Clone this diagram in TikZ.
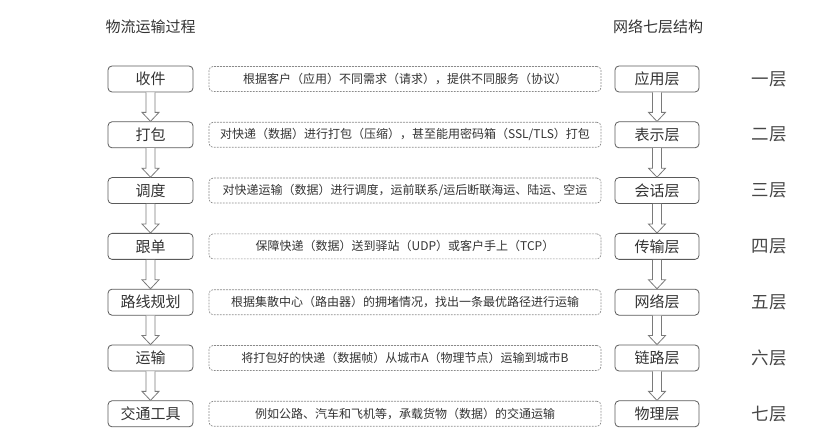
\documentclass[tikz,border=0pt]{standalone}
\usepackage{fontspec}
\setmainfont{Noto Sans CJK SC}
\definecolor{boxline}{HTML}{5A5A5A}
\definecolor{dashline}{HTML}{8A8A8A}
\definecolor{arrline}{HTML}{7A7A7A}
\definecolor{txt}{HTML}{333333}
\tikzset{
  procbox/.style={draw=boxline, line width=0.8pt, rounded corners=4pt, minimum width=85pt, minimum height=26pt, inner sep=0pt, text=txt, font=\fontsize{15pt}{18pt}\selectfont},
  descbox/.style={draw=dashline, line width=0.7pt, dash pattern=on 1.8pt off 1.2pt, rounded corners=4pt, minimum width=392pt, minimum height=25pt, inner sep=0pt, text=txt, font=\fontsize{12pt}{14pt}\selectfont},
  layerbox/.style={procbox, minimum width=84pt},
  layerlbl/.style={text=txt!90, font=\fontsize{17.5pt}{20pt}\selectfont, inner sep=0pt},
  titletxt/.style={text=txt, font=\fontsize{15pt}{18pt}\selectfont, inner sep=0pt},
  hollow/.style={draw=arrline, fill=white, line width=0.8pt, line join=miter}
}
\newcommand\blockarrow[2]{%
  \path[hollow] let \p1=(#1.south), \p2=(#2.north) in
    (\x1-4.5pt,\y1) -- (\x1-4.5pt,\y2+9pt) -- (\x1-8.5pt,\y2+9pt) -- (\x1,\y2)
    -- (\x1+8.5pt,\y2+9pt) -- (\x1+4.5pt,\y2+9pt) -- (\x1+4.5pt,\y1);%
}
\usetikzlibrary{calc}
\begin{document}
\begin{tikzpicture}[x=1pt,y=-1pt]
\useasboundingbox (0,0) rectangle (831,446);
\node[titletxt] (TL) at (150.5,27) {物流运输过程};
\node[titletxt] (TR) at (658,27) {网络七层结构};

\node[procbox] (L1) at (150.5,79) {收件};
\node[procbox] (L2) at (150.5,134.8) {打包};
\node[procbox] (L3) at (150.5,190.6) {调度};
\node[procbox] (L4) at (150.5,246.4) {跟单};
\node[procbox] (L5) at (150.5,302.2) {路线规划};
\node[procbox] (L6) at (150.5,358) {运输};
\node[procbox] (L7) at (150.5,413.8) {交通工具};

\node[descbox] (D1) at (405,79) {根据客户（应用）不同需求（请求），提供不同服务（协议）};
\node[descbox] (D2) at (405,134.8) {对快递（数据）进行打包（压缩），甚至能用密码箱（SSL/TLS）打包};
\node[descbox] (D3) at (405,190.6) {对快递运输（数据）进行调度，运前联系/运后断联海运、陆运、空运};
\node[descbox] (D4) at (405,246.4) {保障快递（数据）送到驿站（UDP）或客户手上（TCP）};
\node[descbox] (D5) at (405,302.2) {根据集散中心（路由器）的拥堵情况，找出一条最优路径进行运输};
\node[descbox] (D6) at (405,358) {将打包好的快递（数据帧）从城市A（物理节点）运输到城市B};
\node[descbox] (D7) at (405,413.8) {例如公路、汽车和飞机等，承载货物（数据）的交通运输};

\node[layerbox] (R1) at (657,79) {应用层};
\node[layerbox] (R2) at (657,134.8) {表示层};
\node[layerbox] (R3) at (657,190.6) {会话层};
\node[layerbox] (R4) at (657,246.4) {传输层};
\node[layerbox] (R5) at (657,302.2) {网络层};
\node[layerbox] (R6) at (657,358) {链路层};
\node[layerbox] (R7) at (657,413.8) {物理层};

\node[layerlbl] (N1) at (769,79) {一层};
\node[layerlbl] (N2) at (769,134.8) {二层};
\node[layerlbl] (N3) at (769,190.6) {三层};
\node[layerlbl] (N4) at (769,246.4) {四层};
\node[layerlbl] (N5) at (769,302.2) {五层};
\node[layerlbl] (N6) at (769,358) {六层};
\node[layerlbl] (N7) at (769,413.8) {七层};

\blockarrow{L1}{L2}
\blockarrow{L2}{L3}
\blockarrow{L3}{L4}
\blockarrow{L4}{L5}
\blockarrow{L5}{L6}
\blockarrow{L6}{L7}
\blockarrow{R1}{R2}
\blockarrow{R2}{R3}
\blockarrow{R3}{R4}
\blockarrow{R4}{R5}
\blockarrow{R5}{R6}
\blockarrow{R6}{R7}
\end{tikzpicture}
\end{document}
